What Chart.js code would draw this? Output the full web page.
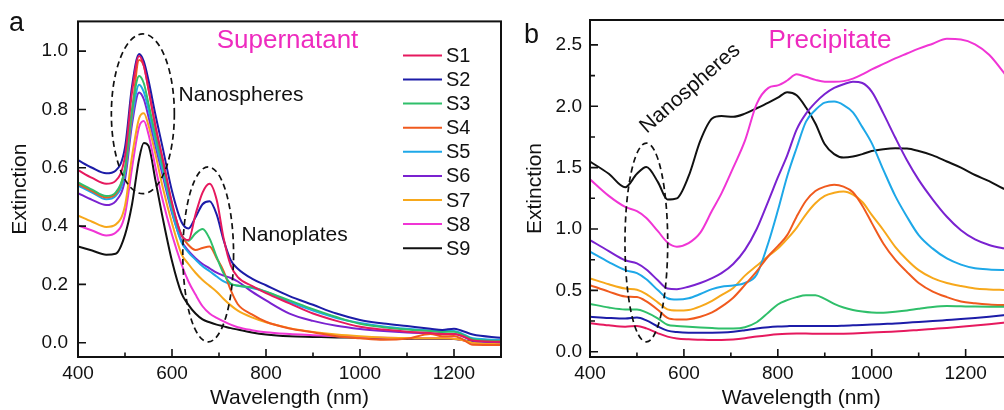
<!DOCTYPE html>
<html><head><meta charset="utf-8">
<script src="https://cdn.jsdelivr.net/npm/chart.js@4.4.1/dist/chart.umd.min.js"></script>
<style>
html,body{margin:0;padding:0;background:#fff;overflow:hidden;width:1004px;height:410px;}
#wa{position:absolute;left:0;top:0;width:510px;height:410px;}
#wb{position:absolute;left:510px;top:0;width:510px;height:410px;}
</style></head><body>
<div id="wa"><canvas id="ca" width="510" height="410"></canvas></div>
<div id="wb"><canvas id="cb" width="510" height="410"></canvas></div>
<script>
// ---------- data ----------
const seriesNames = ['S1','S2','S3','S4','S5','S6','S7','S8','S9'];
const seriesColors = ['#e6195e','#1c1ca8','#2fbf6a','#f05a1e','#1ea8e8','#7a22d0','#f7a81b','#f035d5','#111111'];

// Panel a: Supernatant
const wlA = [400,430,460,480,500,515,530,540,550,565,580,600,620,635,650,665,680,695,710,725,740,770,800,850,900,950,1000,1050,1100,1150,1175,1200,1215,1240,1300];
const supS1 = [.592,.565,.545,.555,.64,.86,.983,.95,.87,.74,.63,.48,.37,.352,.44,.515,.545,.49,.357,.265,.225,.195,.17,.135,.1,.075,.055,.045,.038,.033,.03,.03,.025,.008,.003];
const supS2 = [.626,.6,.581,.59,.67,.88,.99,.965,.9,.78,.67,.52,.415,.392,.43,.475,.485,.44,.351,.283,.254,.22,.197,.16,.13,.1,.078,.066,.057,.048,.044,.048,.042,.028,.017];
const supS3 = [.55,.525,.503,.515,.6,.8,.915,.89,.82,.71,.61,.47,.37,.35,.375,.39,.357,.294,.237,.203,.196,.19,.175,.145,.115,.088,.065,.053,.045,.04,.037,.038,.03,.012,.006];
const supS4 = [.545,.52,.498,.51,.595,.79,.97,.95,.87,.74,.63,.475,.37,.335,.318,.325,.33,.29,.245,.18,.132,.097,.072,.049,.036,.022,.015,.01,.014,.03,.022,.023,.015,-.007,-.008];
const supS5 = [.539,.515,.492,.503,.58,.77,.885,.86,.8,.69,.59,.45,.345,.31,.285,.262,.245,.227,.21,.2,.195,.188,.175,.14,.11,.085,.068,.056,.048,.042,.04,.04,.033,.015,.01];
const supS6 = [.513,.49,.472,.485,.56,.75,.858,.835,.775,.675,.575,.445,.35,.315,.29,.27,.255,.24,.23,.222,.21,.175,.145,.1,.075,.058,.047,.04,.035,.032,.03,.03,.024,.007,.002];
const supS7 = [.436,.415,.397,.405,.47,.64,.77,.787,.745,.645,.535,.41,.305,.27,.24,.215,.195,.175,.15,.128,.11,.087,.07,.05,.037,.028,.022,.018,.016,.015,.015,.014,.01,0,-.003];
const supS8 = [.402,.385,.368,.377,.44,.6,.74,.76,.715,.6,.49,.37,.27,.21,.165,.125,.1,.085,.073,.062,.053,.043,.036,.03,.026,.022,.019,.017,.016,.015,.015,.014,.01,0,-.002];
const supS9 = [.33,.316,.302,.305,.37,.475,.63,.685,.675,.555,.43,.28,.17,.13,.1,.08,.07,.062,.056,.05,.045,.035,.028,.022,.02,.018,.017,.015,.014,.014,.014,.013,.01,.003,0];

// Panel b: Precipitate
const wlB = [400,440,475,500,520,545,565,585,610,635,660,680,705,730,755,780,800,820,840,860,880,900,920,940,960,980,1000,1025,1050,1075,1100,1130,1160,1190,1220,1250,1280,1300];
const preS1 = [.232,.215,.204,.21,.19,.15,.123,.108,.101,.098,.096,.096,.1,.11,.124,.135,.142,.146,.148,.148,.147,.146,.146,.147,.149,.152,.156,.16,.165,.17,.178,.186,.194,.203,.213,.224,.236,.245];
const preS2 = [.285,.275,.27,.278,.255,.205,.172,.16,.155,.155,.155,.156,.162,.175,.19,.2,.205,.208,.21,.21,.21,.21,.21,.212,.215,.218,.222,.226,.23,.236,.243,.25,.258,.266,.275,.285,.297,.305];
const preS3 = [.39,.36,.345,.345,.32,.27,.22,.21,.204,.198,.193,.19,.19,.2,.24,.32,.385,.42,.445,.46,.46,.43,.39,.36,.34,.328,.32,.318,.325,.335,.35,.365,.372,.37,.368,.367,.367,.367];
const preS4 = [.543,.49,.45,.445,.41,.34,.275,.262,.265,.285,.32,.367,.44,.545,.655,.78,.86,.95,1.1,1.23,1.31,1.345,1.36,1.345,1.3,1.19,1.05,.88,.75,.65,.56,.49,.445,.41,.395,.385,.38,.378];
const preS5 = [.815,.73,.665,.64,.59,.5,.436,.425,.435,.47,.51,.53,.54,.56,.63,.89,1.15,1.43,1.66,1.875,1.97,2.03,2.038,2.01,1.95,1.83,1.7,1.48,1.27,1.1,.95,.84,.76,.71,.68,.67,.666,.665];
const preS6 = [.91,.82,.745,.72,.67,.58,.515,.51,.53,.56,.6,.64,.715,.83,1.0,1.23,1.42,1.6,1.81,1.94,2.03,2.1,2.15,2.18,2.2,2.19,2.12,1.94,1.745,1.56,1.4,1.24,1.1,.99,.915,.87,.843,.83];
const preS7 = [.598,.55,.515,.505,.47,.4,.345,.335,.34,.37,.415,.462,.52,.62,.7,.78,.84,.92,1.01,1.12,1.21,1.27,1.295,1.305,1.28,1.22,1.115,.99,.855,.75,.665,.6,.56,.535,.516,.508,.503,.5];
const preS8 = [1.405,1.27,1.18,1.145,1.09,.98,.89,.856,.885,.97,1.15,1.29,1.5,1.72,2.02,2.15,2.17,2.21,2.26,2.24,2.215,2.2,2.2,2.205,2.225,2.26,2.3,2.345,2.39,2.43,2.47,2.51,2.55,2.545,2.505,2.42,2.28,2.17];
const preS9 = [1.55,1.45,1.34,1.45,1.505,1.38,1.24,1.25,1.43,1.72,1.9,1.92,1.915,1.94,1.984,2.03,2.07,2.115,2.09,1.99,1.86,1.69,1.61,1.582,1.59,1.61,1.635,1.65,1.657,1.655,1.635,1.6,1.55,1.5,1.44,1.39,1.33,1.3];

// axis ticks
const xTickStep = 200, yTickStepA = 0.2, yTickStepB = 0.5;

// annotations (data coordinates: wavelength, extinction)
const ellipsesA = [[538, 0.785, 67, 0.274], [677, 0.303, 54, 0.30]];
const ellipsesB = [[520, 0.89, 45.5, 0.81]];
const notesA = [['Nanospheres', 614, 0.829, 0], ['Nanoplates', 748, 0.349, 0]];
const notesB = [['Nanospheres', 521, 1.775, -41]];

// ---------- rendering ----------
const FONT = "'Liberation Sans', Arial, Helvetica, sans-serif";
Chart.defaults.font.family = FONT;
Chart.defaults.color = '#111';

function buildSets(wl, lists) {
  return lists.map((vals, i) => ({
    label: seriesNames[i],
    data: wl.map((x, j) => ({x: x, y: vals[j]})),
    borderColor: seriesColors[i],
    backgroundColor: seriesColors[i],
    borderWidth: 2,
    pointRadius: 0,
    fill: false,
    cubicInterpolationMode: 'monotone'
  }));
}

function minorOf(scale) {
  const t = scale.ticks.map(k => k.value);
  const res = [];
  for (let i = 0; i < t.length - 1; i++) res.push((t[i] + t[i + 1]) / 2);
  if (t.length > 1) {
    const st = t[1] - t[0];
    const nx = t[t.length - 1] + st / 2;
    if (nx <= scale.max + 1e-9) res.push(nx);
    const pv = t[0] - st / 2;
    if (pv >= scale.min - 1e-9) res.push(pv);
  }
  return res;
}

function makeDecor(cfg) {
  return {
    id: 'decor',
    afterDatasetsDraw(chart) {
      const ctx = chart.ctx, ca = chart.chartArea, xs = chart.scales.x, ys = chart.scales.y;
      ctx.save();
      ctx.strokeStyle = '#111';
      ctx.lineWidth = 2;
      ctx.strokeRect(ca.left, ca.top, ca.width, ca.height);
      ctx.lineWidth = 1.6;
      ctx.beginPath();
      xs.ticks.forEach(k => { const p = xs.getPixelForValue(k.value); ctx.moveTo(p, ca.bottom); ctx.lineTo(p, ca.bottom - 8); });
      minorOf(xs).forEach(v => { const p = xs.getPixelForValue(v); ctx.moveTo(p, ca.bottom); ctx.lineTo(p, ca.bottom - 4.5); });
      ys.ticks.forEach(k => { const p = ys.getPixelForValue(k.value); ctx.moveTo(ca.left, p); ctx.lineTo(ca.left + 8, p); });
      if (cfg.yMinor) minorOf(ys).forEach(v => { const p = ys.getPixelForValue(v); ctx.moveTo(ca.left, p); ctx.lineTo(ca.left + 5, p); });
      ctx.stroke();
      // dashed ellipses
      ctx.setLineDash([6, 4]);
      ctx.lineWidth = 1.7;
      cfg.ellipses.forEach(e => {
        const cx = xs.getPixelForValue(e[0]), cy = ys.getPixelForValue(e[1]);
        const rx = Math.abs(xs.getPixelForValue(e[0] + e[2]) - cx);
        const ry = Math.abs(ys.getPixelForValue(e[1] + e[3]) - cy);
        ctx.beginPath();
        ctx.ellipse(cx, cy, rx, ry, 0, 0, Math.PI * 2);
        ctx.stroke();
      });
      ctx.setLineDash([]);
      // notes
      ctx.fillStyle = '#111';
      ctx.font = '21px ' + FONT;
      ctx.textAlign = 'left';
      ctx.textBaseline = 'alphabetic';
      cfg.notes.forEach(n => {
        const px = xs.getPixelForValue(n[1]), py = ys.getPixelForValue(n[2]);
        ctx.save();
        ctx.translate(px, py);
        ctx.rotate(n[3] * Math.PI / 180);
        ctx.fillText(n[0], 0, 0);
        ctx.restore();
      });
      // panel title
      ctx.fillStyle = '#ee2bbf';
      ctx.font = '26px ' + FONT;
      ctx.textAlign = 'center';
      ctx.fillText(cfg.title, ca.left + cfg.titleDx, 48);
      // panel letter
      ctx.fillStyle = '#111';
      ctx.font = '27px ' + FONT;
      ctx.textAlign = 'left';
      ctx.fillText(cfg.letter, cfg.letterX, cfg.letterY);
      // legend
      if (cfg.legend) {
        ctx.font = '20px ' + FONT;
        ctx.textBaseline = 'middle';
        chart.data.datasets.forEach((d, i) => {
          const y = ca.top + 34 + i * 24.1;
          const x0 = ca.left + 325;
          ctx.strokeStyle = d.borderColor;
          ctx.lineWidth = 2;
          ctx.beginPath();
          ctx.moveTo(x0, y); ctx.lineTo(x0 + 39, y);
          ctx.stroke();
          ctx.fillStyle = '#111';
          ctx.fillText(d.label, x0 + 43, y + 1);
        });
      }
      ctx.restore();
    }
  };
}

function makeChart(id, wl, lists, yMin, yMax, yStep, yAxisW, padRight, yTitlePad, yLabelPad, decorCfg) {
  return new Chart(document.getElementById(id), {
    type: 'line',
    data: { datasets: buildSets(wl, lists) },
    options: {
      responsive: false, animation: false, devicePixelRatio: 1,
      layout: { autoPadding: false, padding: { left: 0, right: padRight, top: 20, bottom: 0 } },
      plugins: { legend: { display: false }, tooltip: { enabled: false } },
      scales: {
        x: {
          type: 'linear', min: 400, max: 1300,
          grid: { display: false, drawTicks: false }, border: { display: false },
          ticks: { stepSize: xTickStep, includeBounds: false, padding: 5, maxRotation: 0, autoSkip: false,
                   font: { size: 19 }, color: '#111', callback: v => String(Math.round(v)) },
          title: { display: true, text: 'Wavelength (nm)', font: { size: 21 }, color: '#111', padding: { top: 0, bottom: -1 } },
          afterFit(s) { s.height = 53; }
        },
        y: {
          min: yMin, max: yMax,
          grid: { display: false, drawTicks: false }, border: { display: false },
          ticks: { stepSize: yStep, includeBounds: false, padding: yLabelPad, font: { size: 19 }, color: '#111',
                   callback: v => v.toFixed(1) },
          title: { display: true, text: 'Extinction', font: { size: 21 }, color: '#111', padding: { top: yTitlePad, bottom: 0 } },
          afterFit(s) { s.width = yAxisW; }
        }
      }
    },
    plugins: [makeDecor(decorCfg)]
  });
}

makeChart('ca', wlA, [supS1, supS2, supS3, supS4, supS5, supS6, supS7, supS8, supS9],
  -0.049, 1.102, yTickStepA, 78, 9, 7.4, 10,
  { ellipses: ellipsesA, notes: notesA, title: 'Supernatant', titleDx: 209.5, letter: 'a', letterX: 9, letterY: 31, legend: true, yMinor: false });

makeChart('cb', wlB, [preS1, preS2, preS3, preS4, preS5, preS6, preS7, preS8, preS9],
  -0.043, 2.703, yTickStepB, 80, 7.4, 12.4, 8,
  { ellipses: ellipsesB, notes: notesB, title: 'Precipitate', titleDx: 240, letter: 'b', letterX: 14, letterY: 43, legend: false, yMinor: true });
</script>
</body></html>
